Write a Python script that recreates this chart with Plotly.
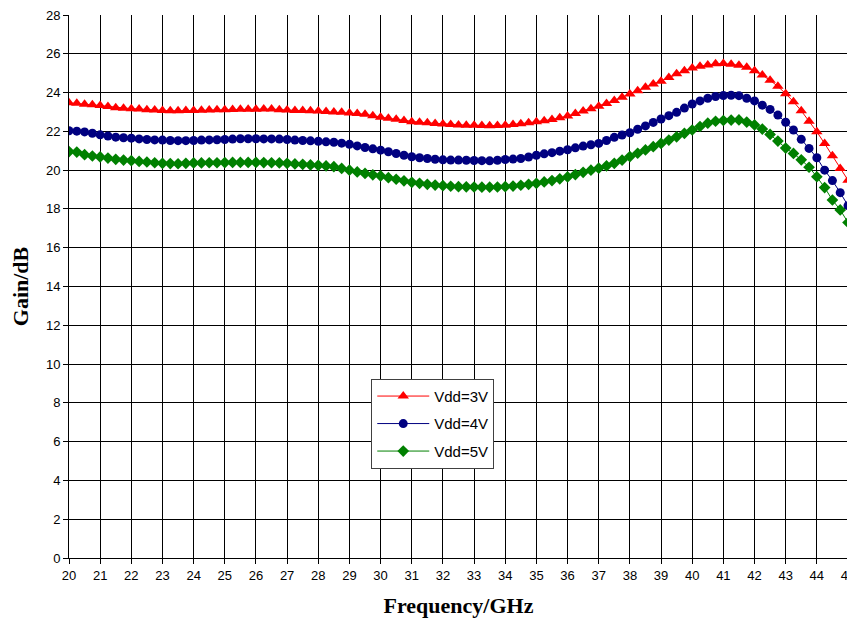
import plotly.graph_objects as go

freq = [20 + 0.25 * i for i in range(101)]

gain_3v = [
    23.47, 23.45, 23.40, 23.37, 23.33, 23.28, 23.22, 23.19, 23.17, 23.15,
    23.12, 23.10, 23.07, 23.06, 23.06, 23.07, 23.08, 23.09, 23.10, 23.11,
    23.12, 23.13, 23.14, 23.14, 23.14, 23.15, 23.15, 23.12, 23.10, 23.08,
    23.07, 23.06, 23.05, 23.02, 23.00, 22.98, 22.95, 22.92, 22.88, 22.80,
    22.73, 22.67, 22.62, 22.56, 22.50, 22.47, 22.44, 22.41, 22.38, 22.35,
    22.33, 22.32, 22.31, 22.30, 22.29, 22.30, 22.32, 22.35, 22.39, 22.44,
    22.50, 22.55, 22.61, 22.70, 22.79, 22.92, 23.05, 23.17, 23.29, 23.44,
    23.59, 23.76, 23.93, 24.10, 24.28, 24.44, 24.59, 24.78, 24.97, 25.12,
    25.27, 25.36, 25.42, 25.48, 25.50, 25.46, 25.41, 25.30, 25.12, 24.90,
    24.63, 24.32, 23.94, 23.53, 23.06, 22.52, 21.98, 21.37, 20.74, 20.09,
    19.48,
]

gain_4v = [
    22.03, 22.01, 21.97, 21.90, 21.82, 21.76, 21.70, 21.67, 21.65, 21.61,
    21.58, 21.56, 21.55, 21.53, 21.52, 21.52, 21.53, 21.55, 21.56, 21.57,
    21.58, 21.60, 21.62, 21.62, 21.62, 21.61, 21.61, 21.60, 21.58, 21.55,
    21.53, 21.51, 21.49, 21.46, 21.44, 21.39, 21.33, 21.25, 21.17, 21.10,
    21.03, 20.95, 20.86, 20.77, 20.69, 20.64, 20.60, 20.56, 20.53, 20.52,
    20.52, 20.51, 20.50, 20.49, 20.48, 20.51, 20.55, 20.57, 20.60, 20.68,
    20.77, 20.84, 20.90, 20.98, 21.05, 21.15, 21.24, 21.31, 21.38, 21.53,
    21.69, 21.81, 21.93, 22.11, 22.28, 22.46, 22.64, 22.81, 22.98, 23.20,
    23.41, 23.57, 23.71, 23.80, 23.85, 23.86, 23.84, 23.71, 23.57, 23.35,
    23.13, 22.84, 22.47, 22.07, 21.59, 21.12, 20.64, 20.00, 19.46, 18.84,
    18.17,
]

gain_5v = [
    20.96, 20.93, 20.80, 20.73, 20.68, 20.62, 20.56, 20.52, 20.49, 20.45,
    20.42, 20.38, 20.35, 20.34, 20.33, 20.35, 20.37, 20.37, 20.38, 20.38,
    20.39, 20.40, 20.40, 20.40, 20.40, 20.39, 20.38, 20.37, 20.35, 20.32,
    20.30, 20.27, 20.25, 20.22, 20.18, 20.09, 20.00, 19.91, 19.83, 19.76,
    19.70, 19.61, 19.53, 19.45, 19.37, 19.32, 19.27, 19.23, 19.20, 19.17,
    19.15, 19.14, 19.13, 19.12, 19.12, 19.13, 19.15, 19.18, 19.22, 19.27,
    19.32, 19.39, 19.46, 19.55, 19.65, 19.77, 19.89, 20.00, 20.10, 20.22,
    20.35, 20.52, 20.70, 20.87, 21.04, 21.21, 21.38, 21.55, 21.72, 21.90,
    22.07, 22.25, 22.42, 22.52, 22.56, 22.58, 22.59, 22.48, 22.33, 22.12,
    21.84, 21.50, 21.14, 20.86, 20.53, 20.15, 19.66, 19.10, 18.46, 17.95,
    17.30,
]

series_names = ["Vdd=3V", "Vdd=4V", "Vdd=5V"]
x_ticks = list(range(20, 46))
y_ticks = list(range(0, 29, 2))

styles = [
    dict(color="#FF0000", symbol="triangle-up", size=10),
    dict(color="#000080", symbol="circle", size=9),
    dict(color="#008000", symbol="diamond", size=9),
]

fig = go.Figure()
for i, (name, ys, st) in enumerate(zip(series_names, [gain_3v, gain_4v, gain_5v], styles)):
    fig.add_trace(go.Scatter(
        x=freq, y=ys, name=name, mode="lines+markers",
        legendgroup=f"g{i}",
        line=dict(color=st["color"], width=1),
        marker=dict(color=st["color"], symbol=st["symbol"], size=st["size"],
                    line=dict(width=0)),
    ))

fig.update_layout(
    width=851, height=613,
    margin=dict(l=61, r=11, t=7, b=63, autoexpand=False),
    paper_bgcolor="white", plot_bgcolor="white",
    font=dict(family="Liberation Sans, Arial, sans-serif", size=13, color="black"),
    showlegend=True,
    legend=dict(
        x=0.388, y=0.33, xanchor="left", yanchor="top",
        bgcolor="white", bordercolor="#404040", borderwidth=1,
        font=dict(family="Liberation Sans, Arial, sans-serif", size=15, color="black"),
        traceorder="grouped", tracegroupgap=5,
        itemwidth=52,
    ),
)
fig.update_xaxes(
    range=[20, 45], tickvals=x_ticks, ticktext=[str(v) for v in x_ticks],
    showgrid=True, gridcolor="black", gridwidth=1,
    showline=True, linecolor="black", linewidth=1,
    ticks="outside", ticklen=5, tickcolor="black",
    zeroline=False, automargin=False, ticklabeloverflow="allow",
    title=dict(text="<b>Frequency/GHz</b>",
               font=dict(family="Liberation Serif, Times New Roman, serif", size=22),
               standoff=16),
)
fig.update_yaxes(
    range=[0, 28], tickvals=y_ticks, ticktext=[str(v) for v in y_ticks],
    showgrid=True, gridcolor="black", gridwidth=1,
    showline=True, linecolor="black", linewidth=1,
    ticks="outside", ticklen=5, tickcolor="black",
    zeroline=False, automargin=False, ticklabeloverflow="allow",
    title=dict(text="<b>Gain/dB</b>",
               font=dict(family="Liberation Serif, Times New Roman, serif", size=22),
               standoff=14),
)

fig.write_html("out.html")
